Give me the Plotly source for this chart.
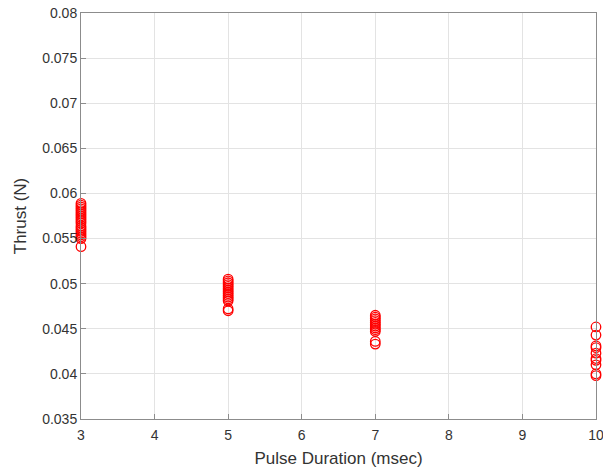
import plotly.graph_objects as go

pulse_3 = [0.0589, 0.0587, 0.0585, 0.0583, 0.0581, 0.0579, 0.0577, 0.0575, 0.0573, 0.0571,
           0.0569, 0.0567, 0.0564, 0.0562, 0.0560, 0.0558, 0.0556, 0.0554, 0.0552, 0.0550, 0.0541]
pulse_5 = [0.0505, 0.0503, 0.0501, 0.0499, 0.0497, 0.0495, 0.0493, 0.0491, 0.0489, 0.0487,
           0.0485, 0.0483, 0.0481, 0.0472, 0.0470]
pulse_7 = [0.0465, 0.0463, 0.0461, 0.0459, 0.0457, 0.0455, 0.0453, 0.0451, 0.0449, 0.0447,
           0.0436, 0.0433]
pulse_10 = [0.0452, 0.0443, 0.0431, 0.0429, 0.0423, 0.0417, 0.0415, 0.0410, 0.0400, 0.0398]

durations = [3, 5, 7, 10]
series = [pulse_3, pulse_5, pulse_7, pulse_10]

xs, ys = [], []
for d, vals in zip(durations, series):
    xs += [d] * len(vals)
    ys += vals

x_ticks = [3, 4, 5, 6, 7, 8, 9, 10]
y_ticks = [0.035, 0.04, 0.045, 0.05, 0.055, 0.06, 0.065, 0.07, 0.075, 0.08]
y_labels = ["0.035", "0.04", "0.045", "0.05", "0.055", "0.06", "0.065", "0.07", "0.075", "0.08"]

fig = go.Figure(go.Scatter(
    x=xs, y=ys, mode="markers",
    marker=dict(symbol="circle-open", size=9.5, color="#ff0000", line=dict(width=1.3, color="#ff0000")),
    cliponaxis=False, showlegend=False,
))

axis_common = dict(
    showline=True, linecolor="#8c8c8c", linewidth=1, mirror=True,
    showgrid=True, gridcolor="#e3e3e3", gridwidth=1,
    ticks="inside", ticklen=5, tickcolor="#8c8c8c",
    zeroline=False, automargin=False, ticklabeloverflow="allow",
    tickfont=dict(family="Liberation Sans, Arial, sans-serif", size=14, color="#333333"),
)

fig.update_layout(
    width=603, height=473,
    margin=dict(l=81, r=7, t=13, b=54, autoexpand=False),
    paper_bgcolor="white", plot_bgcolor="white",
    font=dict(family="Liberation Sans, Arial, sans-serif", color="#333333"),
    xaxis=dict(range=[3, 10], tickvals=x_ticks, ticklabelstandoff=3,
               title=dict(text="Pulse Duration (msec)", font=dict(size=17, color="#333333"), standoff=10),
               **axis_common),
    yaxis=dict(range=[0.035, 0.08], tickvals=y_ticks, ticktext=y_labels,
               title=dict(text="Thrust (N)", font=dict(size=17, color="#333333"), standoff=11),
               **axis_common),
)

fig.write_html("out.html", config={"displayModeBar": False},
               post_script="document.body.style.margin='0';document.body.style.overflow='hidden';")
